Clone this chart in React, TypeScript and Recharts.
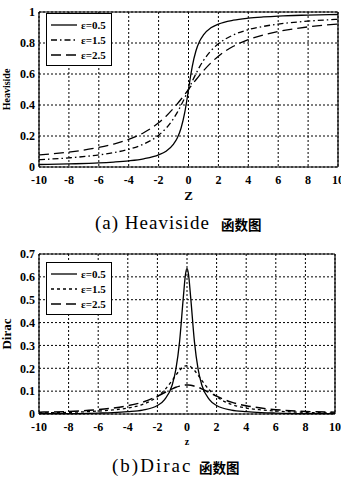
import React from 'react';
import {
  LineChart,
  Line,
  XAxis,
  YAxis,
  CartesianGrid,
  ReferenceLine,
  Legend,
} from 'recharts';

// z samples (denser near 0 where the curves bend)
const zValues = [-10, -8, -6, -5, -4, -3, -2, -1.5, -1, -0.75, -0.5, -0.25, -0.1, 0, 0.1, 0.25, 0.5, 0.75, 1, 1.5, 2, 3, 4, 5, 6, 8, 10];

// Heaviside curves (a)
const heaviside05 = [0.016, 0.02, 0.026, 0.032, 0.04, 0.053, 0.078, 0.102, 0.148, 0.187, 0.25, 0.352, 0.437, 0.5, 0.563, 0.648, 0.75, 0.813, 0.852, 0.898, 0.922, 0.947, 0.96, 0.968, 0.974, 0.98, 0.984];
const heaviside15 = [0.047, 0.059, 0.078, 0.093, 0.114, 0.148, 0.205, 0.25, 0.313, 0.352, 0.398, 0.447, 0.479, 0.5, 0.521, 0.553, 0.602, 0.648, 0.687, 0.75, 0.795, 0.852, 0.886, 0.907, 0.922, 0.941, 0.953];
const heaviside25 = [0.078, 0.096, 0.126, 0.148, 0.178, 0.221, 0.285, 0.328, 0.379, 0.407, 0.437, 0.468, 0.487, 0.5, 0.513, 0.532, 0.563, 0.593, 0.621, 0.672, 0.715, 0.779, 0.822, 0.852, 0.874, 0.904, 0.922];

// Dirac curves (b)
const dirac05 = [0.002, 0.002, 0.004, 0.006, 0.01, 0.017, 0.037, 0.064, 0.127, 0.196, 0.318, 0.509, 0.612, 0.637, 0.612, 0.509, 0.318, 0.196, 0.127, 0.064, 0.037, 0.017, 0.01, 0.006, 0.004, 0.002, 0.002];
const dirac15 = [0.005, 0.007, 0.013, 0.018, 0.026, 0.042, 0.076, 0.106, 0.147, 0.17, 0.191, 0.207, 0.211, 0.212, 0.211, 0.207, 0.191, 0.17, 0.147, 0.106, 0.076, 0.042, 0.026, 0.018, 0.013, 0.007, 0.005];
const dirac25 = [0.008, 0.011, 0.019, 0.026, 0.036, 0.052, 0.078, 0.094, 0.11, 0.117, 0.122, 0.126, 0.127, 0.127, 0.127, 0.126, 0.122, 0.117, 0.11, 0.094, 0.078, 0.052, 0.036, 0.026, 0.019, 0.011, 0.008];

const seriesLabels = ['ε=0.5', 'ε=1.5', 'ε=2.5'];
const xTicks = [-10, -8, -6, -4, -2, 0, 2, 4, 6, 8, 10];
const heavisideTicks = [0, 0.2, 0.4, 0.6, 0.8, 1];
const diracTicks = [0, 0.1, 0.2, 0.3, 0.4, 0.5, 0.6, 0.7];

const FONT = '"Liberation Serif", "DejaVu Serif", serif';
const tickStyle = { fill: '#000', fontSize: 12, fontWeight: 700, fontFamily: FONT };

const heavisideDash = ['0', '6 3 1.5 3', '10 5'];
const diracDash = ['0', '3 3', '10 5'];

function LegendBox(props: { dashes: string[] }) {
  return (
    <div style={{ border: '1.5px solid #000', background: '#fff', padding: '3px 3px', width: 58, boxSizing: 'content-box' }}>
      {seriesLabels.map((label, i) => (
        <div key={label} style={{ display: 'flex', alignItems: 'center', height: 15 }}>
          <svg width={28} height={10} style={{ marginRight: 3 }}>
            <line x1={1} y1={5} x2={27} y2={5} stroke="#000" strokeWidth={1.3} strokeDasharray={props.dashes[i]} />
          </svg>
          <span style={{ fontFamily: FONT, fontWeight: 700, fontSize: 11, color: '#000' }}>{label}</span>
        </div>
      ))}
    </div>
  );
}

function Frame(props: { top: number }) {
  return (
    <>
      <ReferenceLine x={-10} stroke="#000" strokeWidth={1.2} />
      <ReferenceLine x={10} stroke="#000" strokeWidth={1.2} />
      <ReferenceLine y={0} stroke="#000" strokeWidth={1.2} />
      <ReferenceLine y={props.top} stroke="#000" strokeWidth={1.2} />
    </>
  );
}

// caption: latin part in a wide serif, the Chinese part after it
function Caption(props: { top: number; left: number; latin: string; cjkLeft: number; spacing: number }) {
  return (
    <>
      <div style={{ position: 'absolute', left: props.left, top: props.top, lineHeight: '18px', whiteSpace: 'nowrap', fontFamily: FONT, fontSize: 19, letterSpacing: props.spacing, color: '#000' }}>
        {props.latin}
      </div>
      <div style={{ position: 'absolute', left: props.cjkLeft, top: props.top + 1, lineHeight: '18px', whiteSpace: 'nowrap', fontFamily: '"Noto Sans CJK SC", sans-serif', fontSize: 13.5, fontWeight: 700, color: '#000' }}>
        函数图
      </div>
    </>
  );
}

export default function App() {
  const heavisideData = React.useMemo(
    () => zValues.map((z, i) => ({ z, e05: heaviside05[i], e15: heaviside15[i], e25: heaviside25[i] })),
    []
  );
  const diracData = React.useMemo(
    () => zValues.map((z, i) => ({ z, e05: dirac05[i], e15: dirac15[i], e25: dirac25[i] })),
    []
  );

  return (
    <div style={{ position: 'absolute', left: 0, top: 0, width: 341, height: 479, background: '#fff', overflow: 'hidden' }}>
      <div style={{ position: 'absolute', left: 0, top: 0 }}>
        <LineChart width={341} height={202} data={heavisideData} margin={{ top: 12, right: 3, left: 0, bottom: 0 }}>
          <CartesianGrid stroke="#000" strokeDasharray="2 2" strokeWidth={1} />
          <XAxis
            dataKey="z"
            type="number"
            domain={[-10, 10]}
            ticks={xTicks}
            height={35}
            axisLine={false}
            tickLine={false}
            tickSize={4}
            tickMargin={4}
            tick={tickStyle}
            interval={0}
            label={{ value: 'Z', position: 'insideBottom', offset: 2, style: { ...tickStyle, fontSize: 13 } }}
          />
          <YAxis
            type="number"
            domain={[0, 1]}
            ticks={heavisideTicks}
            width={39}
            axisLine={false}
            tickLine={false}
            tickSize={2}
            tick={tickStyle}
            interval={0}
            label={{ value: 'Heaviside', angle: -90, position: 'insideLeft', offset: 6, style: { ...tickStyle, fontSize: 10, textAnchor: 'middle' } }}
          />
          <Frame top={1} />
          <Line dataKey="e05" type="monotone" stroke="#000" strokeWidth={1.3} dot={false} isAnimationActive={false} strokeDasharray={heavisideDash[0]} />
          <Line dataKey="e15" type="monotone" stroke="#000" strokeWidth={1.3} dot={false} isAnimationActive={false} strokeDasharray={heavisideDash[1]} />
          <Line dataKey="e25" type="monotone" stroke="#000" strokeWidth={1.3} dot={false} isAnimationActive={false} strokeDasharray={heavisideDash[2]} />
          <Legend
            layout="vertical"
            align="center"
            verticalAlign="middle"
            wrapperStyle={{ left: 46, top: 13, width: 66 }}
            content={() => <LegendBox dashes={heavisideDash} />}
          />
        </LineChart>
      </div>
      <Caption top={214} left={95} latin="(a) Heaviside" cjkLeft={221} spacing={1} />

      <div style={{ position: 'absolute', left: 0, top: 240 }}>
        <LineChart width={341} height={210} data={diracData} margin={{ top: 14, right: 6, left: 0, bottom: 0 }}>
          <CartesianGrid stroke="#000" strokeDasharray="2 2" strokeWidth={1} />
          <XAxis
            dataKey="z"
            type="number"
            domain={[-10, 10]}
            ticks={xTicks}
            height={36}
            axisLine={false}
            tickLine={false}
            tickSize={4}
            tickMargin={4}
            tick={tickStyle}
            interval={0}
            label={{ value: 'z', position: 'insideBottom', offset: 5, style: { ...tickStyle, fontSize: 10 } }}
          />
          <YAxis
            type="number"
            domain={[0, 0.7]}
            ticks={diracTicks}
            width={39}
            axisLine={false}
            tickLine={false}
            tickSize={2}
            tick={tickStyle}
            interval={0}
            label={{ value: 'Dirac', angle: -90, position: 'insideLeft', offset: 6, style: { ...tickStyle, fontSize: 13, textAnchor: 'middle' } }}
          />
          <Frame top={0.7} />
          <Line dataKey="e05" type="monotone" stroke="#000" strokeWidth={1.3} dot={false} isAnimationActive={false} strokeDasharray={diracDash[0]} />
          <Line dataKey="e15" type="monotone" stroke="#000" strokeWidth={1.3} dot={false} isAnimationActive={false} strokeDasharray={diracDash[1]} />
          <Line dataKey="e25" type="monotone" stroke="#000" strokeWidth={1.5} dot={false} isAnimationActive={false} strokeDasharray={diracDash[2]} />
          <Legend
            layout="vertical"
            align="center"
            verticalAlign="middle"
            wrapperStyle={{ left: 46, top: 22, width: 66 }}
            content={() => <LegendBox dashes={diracDash} />}
          />
        </LineChart>
      </div>
      <Caption top={457} left={112} latin="(b)Dirac" cjkLeft={199} spacing={2} />
    </div>
  );
}
